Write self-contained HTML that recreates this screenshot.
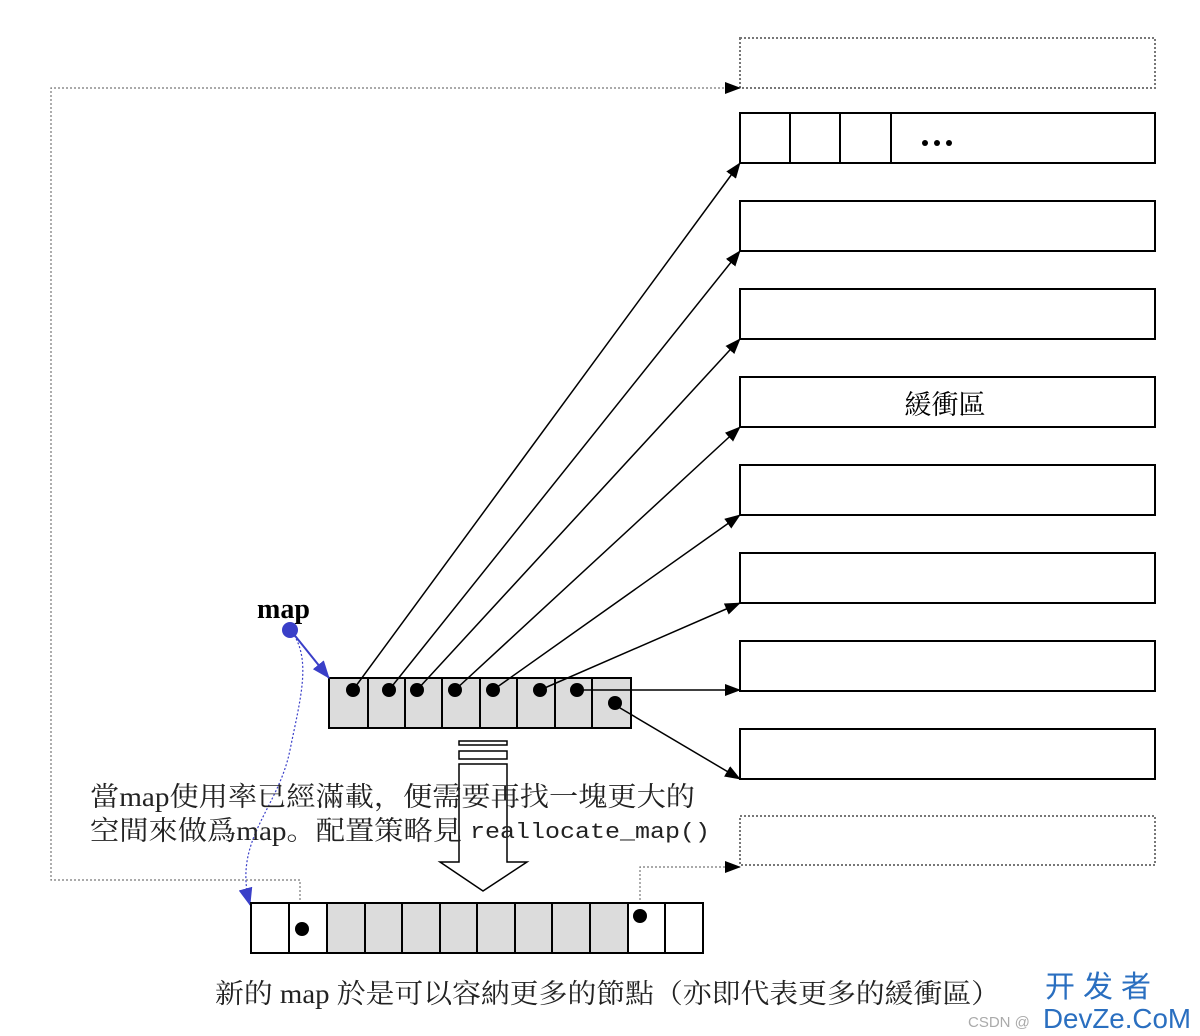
<!DOCTYPE html>
<html><head><meta charset="utf-8"><style>
body{margin:0;background:#fff;}
svg{display:block}
.s{font-family:"Liberation Serif","Noto Serif CJK SC","Noto Sans CJK TC",serif;}
</style></head><body>
<svg width="1200" height="1036" viewBox="0 0 1200 1036" xmlns="http://www.w3.org/2000/svg">
<defs>
<marker id="ah" markerWidth="16" markerHeight="12" refX="15" refY="6" orient="auto" markerUnits="userSpaceOnUse"><path d="M0,0 L16,6 L0,12 Z" fill="#000"/></marker>
<marker id="bh" markerWidth="18" markerHeight="14" refX="17" refY="7" orient="auto" markerUnits="userSpaceOnUse"><path d="M0,0 L18,7 L0,14 Z" fill="#3a3fc8"/></marker>
</defs>
<g fill="none" stroke="#000" stroke-width="2">
<rect x="740" y="38" width="415" height="50" stroke="#777" stroke-dasharray="2,2"/>
<rect x="740" y="113" width="415" height="50"/>
<line x1="790" y1="113" x2="790" y2="163"/><line x1="840" y1="113" x2="840" y2="163"/><line x1="891" y1="113" x2="891" y2="163"/>
<rect x="740" y="201" width="415" height="50"/>
<rect x="740" y="289" width="415" height="50"/>
<rect x="740" y="377" width="415" height="50"/>
<rect x="740" y="465" width="415" height="50"/>
<rect x="740" y="553" width="415" height="50"/>
<rect x="740" y="641" width="415" height="50"/>
<rect x="740" y="729" width="415" height="50"/>
<rect x="740" y="816" width="415" height="49" stroke="#777" stroke-dasharray="2,2"/>
</g>
<g fill="#000"><circle cx="925" cy="143" r="3"/><circle cx="937" cy="143" r="3"/><circle cx="949" cy="143" r="3"/></g>
<text x="945" y="414" class="s" font-size="27" text-anchor="middle">緩衝區</text>
<rect x="329" y="678" width="302" height="50" fill="#dcdcdc" stroke="#000" stroke-width="2"/>
<g stroke="#000" stroke-width="2">
<line x1="368" y1="678" x2="368" y2="728"/><line x1="405" y1="678" x2="405" y2="728"/><line x1="442" y1="678" x2="442" y2="728"/><line x1="480" y1="678" x2="480" y2="728"/><line x1="517" y1="678" x2="517" y2="728"/><line x1="555" y1="678" x2="555" y2="728"/><line x1="592" y1="678" x2="592" y2="728"/>
</g>
<g stroke="#000" stroke-width="1.5" marker-end="url(#ah)">
<line x1="353" y1="690" x2="740" y2="163"/>
<line x1="389" y1="690" x2="740" y2="251"/>
<line x1="417" y1="690" x2="740" y2="339"/>
<line x1="455" y1="690" x2="740" y2="427"/>
<line x1="493" y1="690" x2="740" y2="515"/>
<line x1="540" y1="690" x2="740" y2="603"/>
<line x1="577" y1="690" x2="740" y2="690"/>
<line x1="615" y1="705" x2="740" y2="779"/>
</g>
<g fill="#000">
<circle cx="353" cy="690" r="7"/><circle cx="389" cy="690" r="7"/><circle cx="417" cy="690" r="7"/><circle cx="455" cy="690" r="7"/><circle cx="493" cy="690" r="7"/><circle cx="540" cy="690" r="7"/><circle cx="577" cy="690" r="7"/><circle cx="615" cy="703" r="7"/>
</g>
<text x="257" y="618" class="s" font-size="28" font-weight="bold">map</text>
<path d="M292,632 C312,660 300,700 290,750 C278,810 232,840 250,905" fill="none" stroke="#3a3fc8" stroke-width="1.2" stroke-dasharray="2,2" marker-end="url(#bh)"/>
<line x1="292" y1="632" x2="329" y2="678" stroke="#3a3fc8" stroke-width="2" marker-end="url(#bh)"/>
<circle cx="290" cy="630" r="8" fill="#3a3fc8"/>
<g fill="none" stroke="#000" stroke-width="1.5">
<rect x="459" y="741" width="48" height="4"/>
<rect x="459" y="751" width="48" height="8"/>
<path d="M459,764 L507,764 L507,862 L527,862 L483,891 L440,862 L459,862 Z"/>
</g>
<text x="90" y="806" class="s" font-size="27" fill="#222" textLength="605" lengthAdjust="spacingAndGlyphs">當map使用率已經滿載，便需要再找一塊更大的</text>
<text x="90" y="840" class="s" font-size="27" fill="#222" textLength="372" lengthAdjust="spacingAndGlyphs">空間來做爲map。配置策略見</text>
<text x="470" y="838" font-family="Liberation Mono,monospace" font-size="22" fill="#222" textLength="240" lengthAdjust="spacingAndGlyphs">reallocate_map()</text>
<g fill="none" stroke="#777" stroke-width="1.2" stroke-dasharray="2,2">
<polyline points="300,928 300,880 51,880 51,88 740,88" marker-end="url(#ah)"/>
<polyline points="640,916 640,867 740,867" marker-end="url(#ah)"/>
</g>
<rect x="251" y="903" width="452" height="50" fill="#fff" stroke="#000" stroke-width="2"/>
<rect x="327" y="903" width="301" height="50" fill="#dcdcdc" stroke="#000" stroke-width="2"/>
<g stroke="#000" stroke-width="2">
<line x1="289" y1="903" x2="289" y2="953"/><line x1="365" y1="903" x2="365" y2="953"/><line x1="402" y1="903" x2="402" y2="953"/><line x1="440" y1="903" x2="440" y2="953"/><line x1="477" y1="903" x2="477" y2="953"/><line x1="515" y1="903" x2="515" y2="953"/><line x1="552" y1="903" x2="552" y2="953"/><line x1="590" y1="903" x2="590" y2="953"/><line x1="665" y1="903" x2="665" y2="953"/>
</g>
<circle cx="302" cy="929" r="7" fill="#000"/><circle cx="640" cy="916" r="7" fill="#000"/>
<text x="215" y="1003" class="s" font-size="27" fill="#222" textLength="785" lengthAdjust="spacingAndGlyphs">新的 map 於是可以容納更多的節點（亦即代表更多的緩衝區）</text>
<text x="1045" y="997" font-family="Liberation Sans,Noto Sans CJK SC,sans-serif" font-size="30" fill="#2a6fc0" letter-spacing="8">开发者</text>
<text x="968" y="1027" font-family="Liberation Sans,sans-serif" font-size="15" fill="#aaa">CSDN @</text>
<text x="1043" y="1028" font-family="Liberation Sans,sans-serif" font-size="28" fill="#2a6fc0" textLength="148" lengthAdjust="spacingAndGlyphs">DevZe.CoM</text>
</svg>
</body></html>
